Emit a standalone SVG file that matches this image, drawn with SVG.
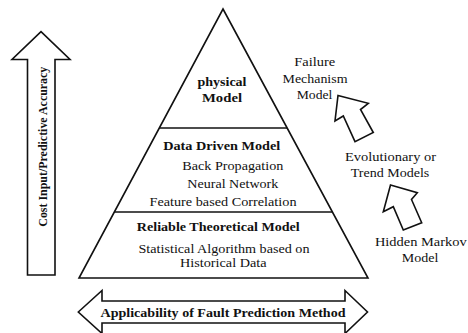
<svg xmlns="http://www.w3.org/2000/svg" width="468" height="333" viewBox="0 0 468 333">
<style>
.ln{fill:none;stroke:#111;stroke-width:1.6;stroke-linejoin:miter}
.blk{fill:#fff;stroke:#111;stroke-width:1.6;stroke-linejoin:miter}
.t{font-family:"Times New Roman","Liberation Serif",Times,serif;font-size:13.5px;fill:#111;text-anchor:middle}
.b{font-weight:bold}
</style>
<rect width="468" height="333" fill="#fff"/>
<g id="pyramid">
<polygon class="ln" points="223,9 368,278 79,278"/>
</g>
<g id="physical-model">
<line class="ln" x1="159.3" y1="128" x2="287" y2="128"/>
<text class="t b" x="222" y="86" textLength="49" lengthAdjust="spacingAndGlyphs">physical</text>
<text class="t b" x="222" y="102" textLength="40" lengthAdjust="spacingAndGlyphs">Model</text>
</g>
<g id="data-driven-model">
<line class="ln" x1="114.3" y1="212" x2="332.4" y2="212"/>
<text class="t b" x="221.7" y="150" textLength="117" lengthAdjust="spacingAndGlyphs">Data Driven Model</text>
<text class="t" x="232.8" y="170" textLength="101" lengthAdjust="spacingAndGlyphs">Back Propagation</text>
<text class="t" x="232.8" y="187.5" textLength="91" lengthAdjust="spacingAndGlyphs">Neural Network</text>
<text class="t" x="223" y="205.5" textLength="147" lengthAdjust="spacingAndGlyphs">Feature based Correlation</text>
</g>
<g id="reliable-theoretical-model">
<text class="t b" x="218.3" y="230.5" textLength="163" lengthAdjust="spacingAndGlyphs">Reliable Theoretical Model</text>
<text class="t" x="224" y="252.5" textLength="171" lengthAdjust="spacingAndGlyphs">Statistical Algorithm based on</text>
<text class="t" x="223.3" y="266.5" textLength="86.7" lengthAdjust="spacingAndGlyphs">Historical Data</text>
</g>
<g id="cost-arrow">
<polygon class="blk" points="41,31.7 70,59.5 55,59.5 55,275 27.5,275 27.5,59.5 12,59.5"/>
<text class="t b" transform="translate(46.5,146.7) rotate(-90)" textLength="160" lengthAdjust="spacingAndGlyphs">Cost Input/Predictive Accuracy</text>
</g>
<g id="applicability-arrow">
<polygon class="blk" points="78.3,312 102,290.5 102,301 345,301 345,290.5 367.5,312 345,333.5 345,323 102,323 102,333.5"/>
<text class="t b" x="223" y="316.7" textLength="245" lengthAdjust="spacingAndGlyphs">Applicability of Fault Prediction Method</text>
</g>
<g id="failure-mechanism-model">
<text class="t" x="314.7" y="66" textLength="41" lengthAdjust="spacingAndGlyphs">Failure</text>
<text class="t" x="315" y="82.7" textLength="65" lengthAdjust="spacingAndGlyphs">Mechanism</text>
<text class="t" x="314.5" y="99.3" textLength="35.6" lengthAdjust="spacingAndGlyphs">Model</text>
</g>
<g id="evolutionary-trend-models">
<text class="t" x="390.5" y="160.7" textLength="91" lengthAdjust="spacingAndGlyphs">Evolutionary or</text>
<text class="t" x="390" y="176.7" textLength="78.6" lengthAdjust="spacingAndGlyphs">Trend Models</text>
</g>
<g id="hidden-markov-model">
<text class="t" x="420.8" y="246" textLength="91.7" lengthAdjust="spacingAndGlyphs">Hidden Markov</text>
<text class="t" x="420" y="262.3" textLength="36.6" lengthAdjust="spacingAndGlyphs">Model</text>
</g>
<g id="connectors">
<polygon class="blk" points="338,95.5 368.3,103.3 360.5,109.5 373.3,132.5 355,141.7 343.3,116 335,121"/>
<polygon class="blk" points="390.5,185 417.3,192.7 411.5,199.5 421.7,222.7 403.3,230 393.3,206.7 383.3,211.7"/>
</g>
</svg>
